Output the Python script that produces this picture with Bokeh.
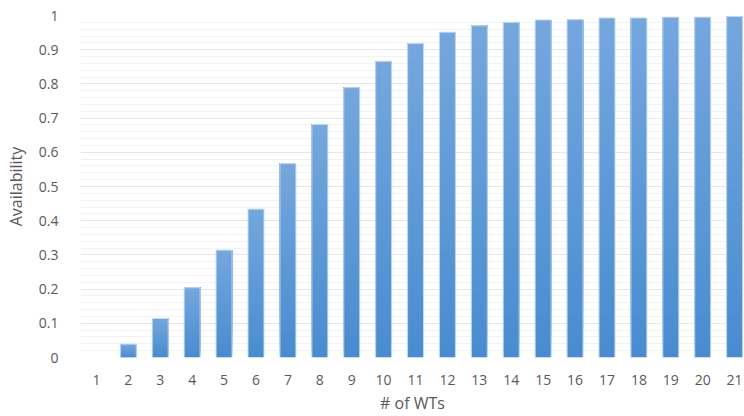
from bokeh.plotting import figure
from bokeh.models import Range1d, SingleIntervalTicker, CustomJSTickFormatter, ColumnDataSource, FixedTicker
from bokeh.embed import file_html
from bokeh.resources import INLINE

# Number of wind turbines and the resulting availability
wts = list(range(1, 22))
availability = [0.0, 0.039, 0.114, 0.204, 0.314, 0.434, 0.567, 0.681, 0.789, 0.866,
                0.918, 0.951, 0.970, 0.980, 0.987, 0.988, 0.993, 0.993, 0.995, 0.995, 0.997]
x_tick_labels = [str(n) for n in wts]

TEXT = "#595959"
TOP_RGB = (117, 167, 222)
BOTTOM_RGB = (72, 140, 207)
BANDS = 80

p = figure(width=744, height=416, output_backend="svg", toolbar_location=None,
           x_range=Range1d(0.5, 21.31), y_range=Range1d(0, 1.0),
           min_border_left=80, min_border_right=0, min_border_top=15, min_border_bottom=54)
p.outline_line_color = None
p.background_fill_color = "white"
p.border_fill_color = "white"

# Each bar gets a vertical gradient, darker at the base and lighter at the top.
# Every band runs up to the bar's top and the next one is painted over it,
# so adjacent bands leave no seams.
xs, bottoms, tops, colors = [], [], [], []
for x, v in zip(wts, availability):
    if v <= 0:
        continue
    for i in range(BANDS):
        t = (i + 0.5) / BANDS
        r = round(BOTTOM_RGB[0] + (TOP_RGB[0] - BOTTOM_RGB[0]) * t)
        g = round(BOTTOM_RGB[1] + (TOP_RGB[1] - BOTTOM_RGB[1]) * t)
        b = round(BOTTOM_RGB[2] + (TOP_RGB[2] - BOTTOM_RGB[2]) * t)
        xs.append(x)
        bottoms.append(v * i / BANDS)
        tops.append(v)
        colors.append("#%02x%02x%02x" % (r, g, b))

band_src = ColumnDataSource(dict(x=xs, bottom=bottoms, top=tops, color=colors))
p.vbar(x="x", bottom="bottom", top="top", width=0.5, fill_color="color",
       line_color=None, source=band_src)

# Thin light outline around each non-empty bar
shown = [(x, v) for x, v in zip(wts, availability) if v > 0]
bar_src = ColumnDataSource(dict(x=[s[0] for s in shown], top=[s[1] for s in shown]))
p.vbar(x="x", top="top", bottom=0, width=0.5, fill_color=None,
       line_color="#c4daf0", line_width=1, source=bar_src)

# Gridlines
p.xgrid.visible = False
p.ygrid.grid_line_color = "#e4e6ec"
p.ygrid.grid_line_width = 1
p.ygrid.minor_grid_line_color = "#f1f2f5"
p.ygrid.minor_grid_line_width = 1

# Y axis
p.yaxis.ticker = SingleIntervalTicker(interval=0.1, num_minor_ticks=5)
p.yaxis.formatter = CustomJSTickFormatter(code="return parseFloat(tick.toFixed(2)).toString();")
p.yaxis.axis_line_color = None
p.yaxis.major_tick_line_color = None
p.yaxis.minor_tick_line_color = None
p.yaxis.major_label_text_font = "Open Sans"
p.yaxis.major_label_text_font_size = "14px"
p.yaxis.major_label_text_color = TEXT
p.yaxis.major_label_standoff = 16
p.yaxis.axis_label = "Availability"
p.yaxis.axis_label_text_font = "Open Sans"
p.yaxis.axis_label_text_font_style = "normal"
p.yaxis.axis_label_text_font_size = "16px"
p.yaxis.axis_label_text_color = TEXT
p.yaxis.axis_label_standoff = 9

# X axis
p.xaxis.ticker = FixedTicker(ticks=wts)
p.xaxis.major_label_overrides = {n: lab for n, lab in zip(wts, x_tick_labels)}
p.xaxis.axis_line_color = None
p.xaxis.major_tick_line_color = None
p.xaxis.minor_tick_line_color = None
p.xaxis.major_label_text_font = "Open Sans"
p.xaxis.major_label_text_font_size = "14px"
p.xaxis.major_label_text_color = TEXT
p.xaxis.major_label_standoff = 11
p.xaxis.axis_label = "# of WTs"
p.xaxis.axis_label_text_font = "Open Sans"
p.xaxis.axis_label_text_font_style = "normal"
p.xaxis.axis_label_text_font_size = "16px"
p.xaxis.axis_label_text_color = TEXT
p.xaxis.axis_label_standoff = 4

open("out.html", "w").write(file_html(p, INLINE))
